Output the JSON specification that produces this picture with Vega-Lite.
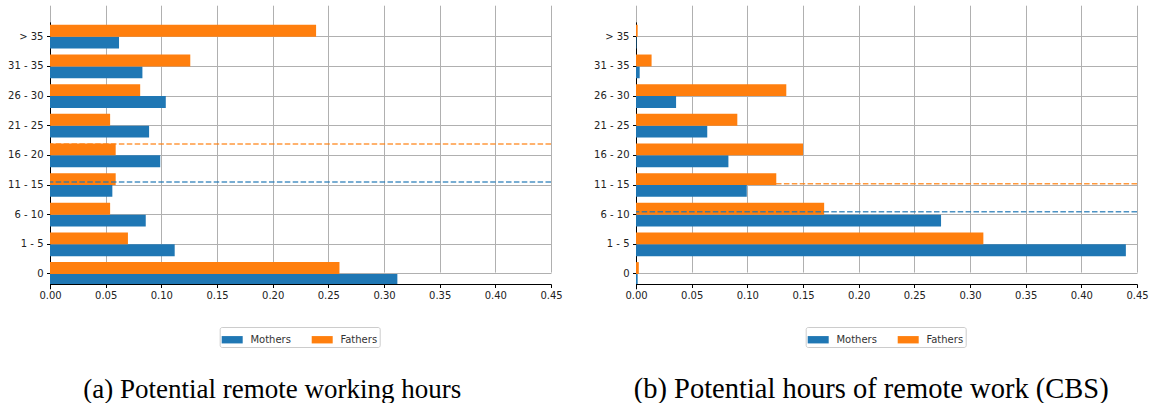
{
  "$schema": "https://vega.github.io/schema/vega-lite/v6.json",
  "background": "white",
  "padding": {"left": 7, "top": 10, "right": 2, "bottom": 0},
  "datasets": {
    "remote": [
      {"hours": "> 35", "parent": "Mothers", "share": 0.062},
      {"hours": "> 35", "parent": "Fathers", "share": 0.239},
      {"hours": "31 - 35", "parent": "Mothers", "share": 0.083},
      {"hours": "31 - 35", "parent": "Fathers", "share": 0.126},
      {"hours": "26 - 30", "parent": "Mothers", "share": 0.104},
      {"hours": "26 - 30", "parent": "Fathers", "share": 0.081},
      {"hours": "21 - 25", "parent": "Mothers", "share": 0.089},
      {"hours": "21 - 25", "parent": "Fathers", "share": 0.054},
      {"hours": "16 - 20", "parent": "Mothers", "share": 0.099},
      {"hours": "16 - 20", "parent": "Fathers", "share": 0.059},
      {"hours": "11 - 15", "parent": "Mothers", "share": 0.056},
      {"hours": "11 - 15", "parent": "Fathers", "share": 0.059},
      {"hours": "6 - 10", "parent": "Mothers", "share": 0.086},
      {"hours": "6 - 10", "parent": "Fathers", "share": 0.054},
      {"hours": "1 - 5", "parent": "Mothers", "share": 0.112},
      {"hours": "1 - 5", "parent": "Fathers", "share": 0.070},
      {"hours": "0", "parent": "Mothers", "share": 0.312},
      {"hours": "0", "parent": "Fathers", "share": 0.260}
    ],
    "cbs": [
      {"hours": "> 35", "parent": "Mothers", "share": 0.0005},
      {"hours": "> 35", "parent": "Fathers", "share": 0.0015},
      {"hours": "31 - 35", "parent": "Mothers", "share": 0.0033},
      {"hours": "31 - 35", "parent": "Fathers", "share": 0.014},
      {"hours": "26 - 30", "parent": "Mothers", "share": 0.036},
      {"hours": "26 - 30", "parent": "Fathers", "share": 0.135},
      {"hours": "21 - 25", "parent": "Mothers", "share": 0.064},
      {"hours": "21 - 25", "parent": "Fathers", "share": 0.091},
      {"hours": "16 - 20", "parent": "Mothers", "share": 0.083},
      {"hours": "16 - 20", "parent": "Fathers", "share": 0.150},
      {"hours": "11 - 15", "parent": "Mothers", "share": 0.0995},
      {"hours": "11 - 15", "parent": "Fathers", "share": 0.126},
      {"hours": "6 - 10", "parent": "Mothers", "share": 0.274},
      {"hours": "6 - 10", "parent": "Fathers", "share": 0.169},
      {"hours": "1 - 5", "parent": "Mothers", "share": 0.440},
      {"hours": "1 - 5", "parent": "Fathers", "share": 0.312},
      {"hours": "0", "parent": "Mothers", "share": 0.0015},
      {"hours": "0", "parent": "Fathers", "share": 0.0025}
    ],
    "meansA": [
      {"parent": "Mothers", "mean": 3.10},
      {"parent": "Fathers", "mean": 4.38}
    ],
    "meansB": [
      {"parent": "Mothers", "mean": 2.10},
      {"parent": "Fathers", "mean": 3.04}
    ]
  },
  "spacing": 85,
  "bounds": "flush",
  "resolve": {"scale": {"color": "independent", "stroke": "independent"}},
  "hconcat": [
    {
      "width": 501,
      "height": 274,
      "resolve": {"scale": {"y": "independent"}},
      "layer": [
        {
          "data": {"name": "remote"},
          "mark": {"type": "bar", "clip": true},
          "encoding": {
            "y": {"field": "hours", "type": "nominal", "sort": ["> 35", "31 - 35", "26 - 30", "21 - 25", "16 - 20", "11 - 15", "6 - 10", "1 - 5", "0"],
              "scale": {"range": [11.9, 278.8], "paddingInner": 0, "paddingOuter": 0},
              "axis": {"title": null, "grid": true, "bandPosition": 0.5, "labelPadding": 3.5, "labelFontSize": 10, "labelFont": "DejaVu Sans"}},
            "yOffset": {"field": "parent", "type": "nominal", "sort": ["Fathers", "Mothers"], "scale": {"paddingInner": 0, "paddingOuter": 0.25}},
            "x": {"field": "share", "type": "quantitative", "scale": {"domain": [0, 0.45], "nice": false},
              "axis": {"values": [0, 0.05, 0.1, 0.15, 0.2, 0.25, 0.3, 0.35, 0.4, 0.45], "format": ".2f", "grid": true, "labelPadding": 3, "labelFlush": false, "labelOverlap": false, "labelFontSize": 10, "labelFont": "DejaVu Sans",
                "title": "(a) Potential remote working hours", "titleFontSize": 27, "titleX": 221.7, "titleY": 113.3, "titleAlign": "center", "titleBaseline": "alphabetic"}},
            "color": {"field": "parent", "type": "nominal", "scale": {"domain": ["Mothers", "Fathers"], "range": ["#1f77b4", "#ff7f0e"]},
              "legend": {"orient": "none", "legendX": 169.7, "legendY": 317}}
          }
        },
        {
          "data": {"name": "meansA"},
          "mark": {"type": "rule", "strokeDash": [5.5, 2.4], "strokeWidth": 1.5, "opacity": 0.8},
          "encoding": {
            "y": {"field": "mean", "type": "quantitative", "scale": {"domain": [-0.338, 8.901], "nice": false, "zero": false}, "axis": null},
            "stroke": {"field": "parent", "type": "nominal", "scale": {"domain": ["Mothers", "Fathers"], "range": ["#1f77b4", "#ff7f0e"]}, "legend": null}
          }
        }
      ]
    },
    {
      "width": 501,
      "height": 274,
      "resolve": {"scale": {"y": "independent"}},
      "layer": [
        {
          "data": {"name": "cbs"},
          "mark": {"type": "bar", "clip": true},
          "encoding": {
            "y": {"field": "hours", "type": "nominal", "sort": ["> 35", "31 - 35", "26 - 30", "21 - 25", "16 - 20", "11 - 15", "6 - 10", "1 - 5", "0"],
              "scale": {"range": [11.9, 278.8], "paddingInner": 0, "paddingOuter": 0},
              "axis": {"title": null, "grid": true, "bandPosition": 0.5, "labelPadding": 3.5, "labelFontSize": 10, "labelFont": "DejaVu Sans"}},
            "yOffset": {"field": "parent", "type": "nominal", "sort": ["Fathers", "Mothers"], "scale": {"paddingInner": 0, "paddingOuter": 0.25}},
            "x": {"field": "share", "type": "quantitative", "scale": {"domain": [0, 0.45], "nice": false},
              "axis": {"values": [0, 0.05, 0.1, 0.15, 0.2, 0.25, 0.3, 0.35, 0.4, 0.45], "format": ".2f", "grid": true, "labelPadding": 3, "labelFlush": false, "labelOverlap": false, "labelFontSize": 10, "labelFont": "DejaVu Sans",
                "title": "(b) Potential hours of remote work (CBS)", "titleFontSize": 28.5, "titleX": 234.7, "titleY": 113.3, "titleAlign": "center", "titleBaseline": "alphabetic"}},
            "color": {"field": "parent", "type": "nominal", "scale": {"domain": ["Mothers", "Fathers"], "range": ["#1f77b4", "#ff7f0e"]},
              "legend": {"orient": "none", "legendX": 169.7, "legendY": 317}}
          }
        },
        {
          "data": {"name": "meansB"},
          "mark": {"type": "rule", "strokeDash": [5.5, 2.4], "strokeWidth": 1.5, "opacity": 0.8},
          "encoding": {
            "y": {"field": "mean", "type": "quantitative", "scale": {"domain": [-0.338, 8.901], "nice": false, "zero": false}, "axis": null},
            "stroke": {"field": "parent", "type": "nominal", "scale": {"domain": ["Mothers", "Fathers"], "range": ["#1f77b4", "#ff7f0e"]}, "legend": null}
          }
        }
      ]
    }
  ],
  "config": {
    "view": {"stroke": null},
    "font": "DejaVu Sans",
    "axis": {
      "zindex": 1,
      "labelFont": "DejaVu Sans",
      "labelFontSize": 10,
      "labelColor": "#222222",
      "domainColor": "#000000",
      "domainWidth": 1,
      "tickColor": "#000000",
      "tickSize": 3.5,
      "tickWidth": 1,
      "gridColor": "#b0b0b0",
      "gridWidth": 1,
      "titleFont": "Liberation Serif",
      "titleFontSize": 27,
      "titleFontWeight": "normal",
      "titleColor": "#000000"
    },
    "legend": {
      "direction": "horizontal",
      "title": null,
      "symbolType": "M-1,-0.35L1,-0.35L1,0.35L-1,0.35Z",
      "symbolSize": 441,
      "symbolStrokeWidth": 0,
      "symbolOpacity": 1,
      "labelFont": "DejaVu Sans",
      "labelFontSize": 10,
      "labelColor": "#333333",
      "labelOffset": 7.7,
      "columnPadding": 20,
      "padding": 2,
      "strokeColor": "#cccccc",
      "fillColor": "#ffffff",
      "cornerRadius": 2
    }
  }
}
